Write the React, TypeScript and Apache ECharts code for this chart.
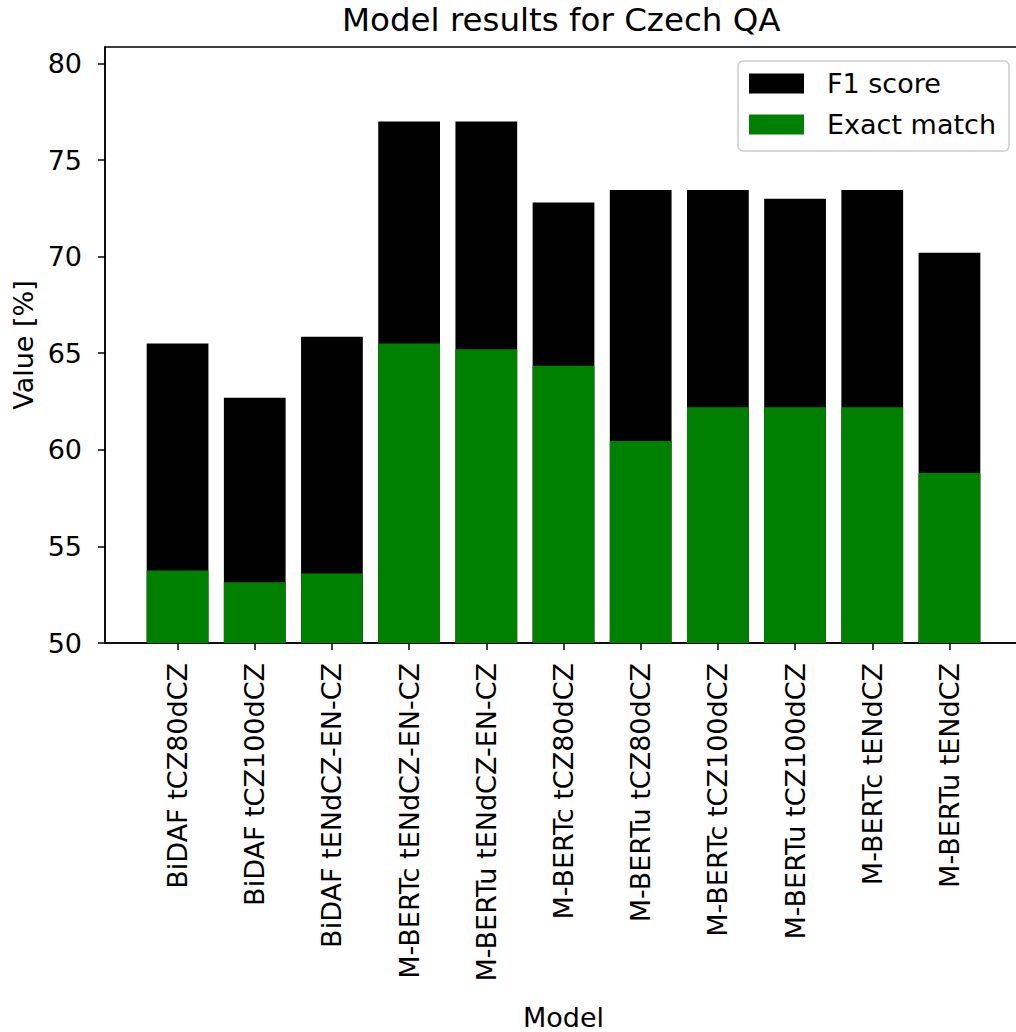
import React, { useEffect, useRef } from "react";
import * as echarts from "echarts";

const categories = [
  "BiDAF tCZ80dCZ",
  "BiDAF tCZ100dCZ",
  "BiDAF tENdCZ-EN-CZ",
  "M-BERTc tENdCZ-EN-CZ",
  "M-BERTu tENdCZ-EN-CZ",
  "M-BERTc tCZ80dCZ",
  "M-BERTu tCZ80dCZ",
  "M-BERTc tCZ100dCZ",
  "M-BERTu tCZ100dCZ",
  "M-BERTc tENdCZ",
  "M-BERTu tENdCZ",
];
const f1Scores = [65.5, 62.7, 65.85, 77.0, 77.0, 72.8, 73.45, 73.45, 73.0, 73.45, 70.2];
const exactMatch = [53.75, 53.15, 53.6, 65.5, 65.2, 64.35, 60.45, 62.2, 62.2, 62.2, 58.8];
const yTicks = [50, 55, 60, 65, 70, 75, 80];
const xTicks = categories.map((_, i) => i);
const yMin = 50;
const yMax = 80.85;
const xMin = -0.94;
const xMax = 10.94;

const FONT = "DejaVu Sans";

export default function App() {
  const ref = useRef<HTMLDivElement>(null);
  useEffect(() => {
    if (!ref.current) return;
    const chart = echarts.init(ref.current, null, { renderer: "svg" });
    chart.setOption({
      animation: false,
      backgroundColor: "#ffffff",
      textStyle: { fontFamily: FONT },
      title: {
        text: "Model results for Czech QA",
        left: 342,
        top: 3,
        padding: 0,
        textStyle: { fontFamily: FONT, fontSize: 32.5, fontWeight: "normal", color: "#000" },
      },
      legend: {
        orient: "vertical",
        right: 7,
        top: 61,
        itemWidth: 55,
        itemHeight: 20,
        itemGap: 14,
        icon: "rect",
        padding: [9, 13, 13, 11],
        backgroundColor: "rgba(255,255,255,0.8)",
        borderColor: "#cccccc",
        borderWidth: 1.5,
        borderRadius: 5,
        textStyle: {
          fontFamily: FONT,
          fontSize: 27,
          color: "#000",
          padding: [0, 0, 0, 18],
        },
        data: ["F1 score", "Exact match"],
      },
      grid: {
        left: 105,
        top: 47,
        width: 917,
        bottom: 389,
        show: true,
        borderColor: "#000",
        borderWidth: 1.5,
        containLabel: false,
        outerBoundsMode: "none",
      },
      xAxis: {
        type: "value",
        min: xMin,
        max: xMax,
        name: "Model",
        nameLocation: "middle",
        nameGap: 361,
        nameTextStyle: { fontFamily: FONT, fontSize: 27, color: "#000" },
        axisLine: { show: true, onZero: false, lineStyle: { color: "#000", width: 1.5 } },
        axisTick: { show: true, customValues: xTicks, length: 7, lineStyle: { color: "#000", width: 1.5 } },
        axisLabel: {
          customValues: xTicks,
          rotate: 90,
          margin: 20,
          fontFamily: FONT,
          fontSize: 27,
          color: "#000",
          formatter: (v: number) => categories[Math.round(v)] ?? "",
        },
        splitLine: { show: false },
      },
      yAxis: {
        type: "value",
        min: yMin,
        max: yMax,
        name: "Value [%]",
        nameLocation: "middle",
        nameGap: 66,
        nameTextStyle: { fontFamily: FONT, fontSize: 27, color: "#000" },
        axisLine: { show: true, onZero: false, lineStyle: { color: "#000", width: 1.5 } },
        axisTick: { show: true, customValues: yTicks, length: 7, lineStyle: { color: "#000", width: 1.5 } },
        axisLabel: {
          customValues: yTicks,
          margin: 23,
          fontFamily: FONT,
          fontSize: 27,
          color: "#000",
        },
        splitLine: { show: false },
      },
      series: [
        {
          name: "F1 score",
          type: "bar",
          barWidth: "80%",
          barGap: "-100%",
          itemStyle: { color: "#000000" },
          data: f1Scores.map((v, i) => [i, v]),
        },
        {
          name: "Exact match",
          type: "bar",
          barWidth: "80%",
          barGap: "-100%",
          itemStyle: { color: "#008000" },
          data: exactMatch.map((v, i) => [i, v]),
        },
      ],
    });
    return () => chart.dispose();
  }, []);
  return (
    <div
      ref={ref}
      style={{ position: "absolute", left: 0, top: 0, width: 1016, height: 1032, overflow: "hidden" }}
    />
  );
}
